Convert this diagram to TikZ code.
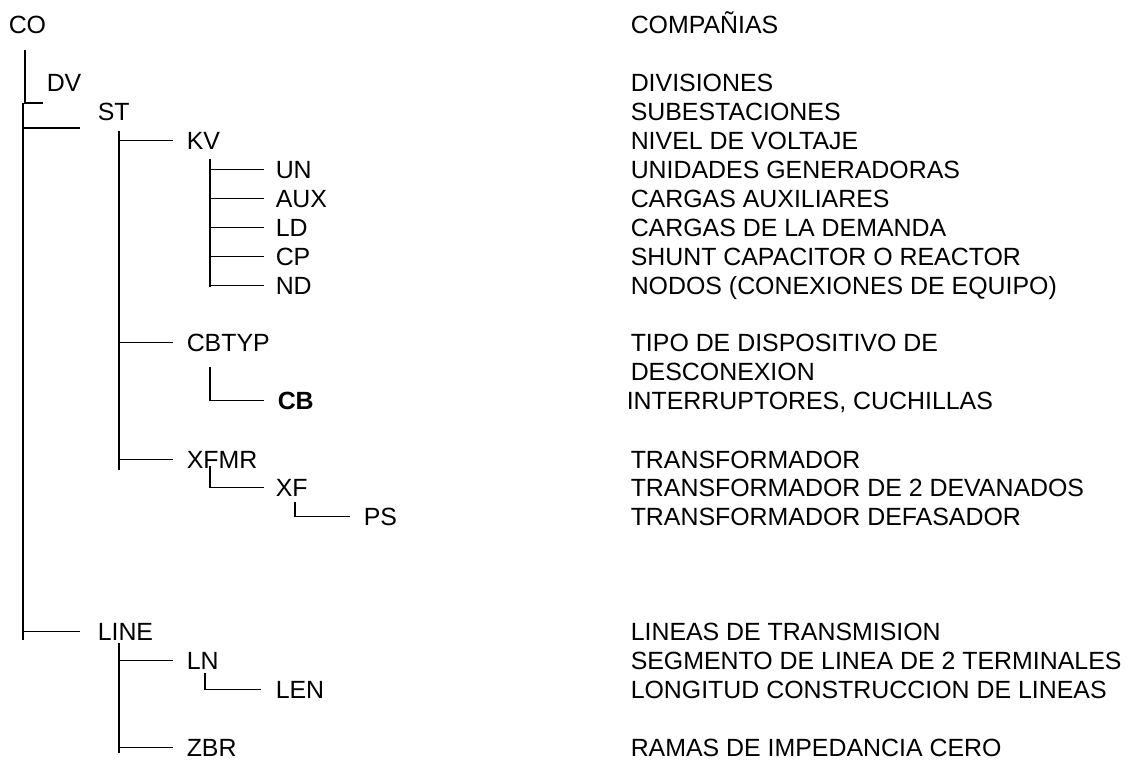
\documentclass[tikz,border=0pt]{standalone}
\usepackage{fontspec}
\setmainfont{Liberation Sans}
\usepackage{tikz}

\begin{document}
\begin{tikzpicture}[x=0.5pt,y=-0.5pt,line width=0.75pt,
    every node/.style={anchor=base west,inner sep=0pt,font=\fontsize{12.45}{14}\selectfont}]
  \useasboundingbox (0,0) rectangle (1130,760);
  \node (CO) at (8,33) {CO};
  \node (DV) at (46,91) {DV};
  \node (ST) at (97,120) {ST};
  \node (KV) at (186,149) {KV};
  \node (UN) at (275,178) {UN};
  \node (AUX) at (275,207) {AUX};
  \node (LD) at (275,236) {LD};
  \node (CP) at (275,265) {CP};
  \node (ND) at (275,294) {ND};
  \node (CBTYP) at (186,351) {CBTYP};
  \node (CB) at (277,409) {\bfseries CB};
  \node (XFMR) at (186,468) {XFMR};
  \node (XF) at (275,496) {XF};
  \node (PS) at (363,525) {PS};
  \node (LINE) at (97,640) {LINE};
  \node (LN) at (186,669) {LN};
  \node (LEN) at (275,698) {LEN};
  \node (ZBR) at (186,756) {ZBR};
  \node (dCO) at (630,33) {COMPAÑIAS};
  \node (dDV) at (630,91) {DIVISIONES};
  \node (dST) at (630,120) {SUBESTACIONES};
  \node (dKV) at (630,149) {NIVEL DE VOLTAJE};
  \node (dUN) at (630,178) {UNIDADES GENERADORAS};
  \node (dAUX) at (630,207) {CARGAS AUXILIARES};
  \node (dLD) at (630,236) {CARGAS DE LA DEMANDA};
  \node (dCP) at (630,265) {SHUNT CAPACITOR O REACTOR};
  \node (dND) at (630,294) {NODOS (CONEXIONES DE EQUIPO)};
  \node (dCBTYP) at (630,351) {TIPO DE DISPOSITIVO DE};
  \node (dCBTYP2) at (630,380) {DESCONEXION};
  \node (dCB) at (626,409) {INTERRUPTORES, CUCHILLAS};
  \node (dXFMR) at (630,468) {TRANSFORMADOR};
  \node (dXF) at (630,496) {TRANSFORMADOR DE 2 DEVANADOS};
  \node (dPS) at (630,525) {TRANSFORMADOR DEFASADOR};
  \node (dLINE) at (630,640) {LINEAS DE TRANSMISION};
  \node (dLN) at (630,669) {SEGMENTO DE LINEA DE 2 TERMINALES};
  \node (dLEN) at (630,698) {LONGITUD CONSTRUCCION DE LINEAS};
  \node (dZBR) at (630,756) {RAMAS DE IMPEDANCIA CERO};
  \coordinate (tCO) at (25,50);
  \coordinate (eCO) at (43,103);
  \draw (tCO) |- (eCO);
  \coordinate (b0) at (23,103);
  \coordinate (e0) at (23,640);
  \coordinate (sST) at (80,128);
  \draw (b0) -- (e0);
  \draw (b0 |- sST) -- (sST);
  \draw (b0 |- LINE.west) -- ([xshift=-8.5pt]LINE.west);
  \coordinate (bST) at (119,131);
  \coordinate (eST) at (119,470);
  \draw (bST) -- (eST);
  \draw (bST |- KV.west) -- ([xshift=-6.5pt]KV.west);
  \draw (bST |- CBTYP.west) -- ([xshift=-6.5pt]CBTYP.west);
  \draw (bST |- XFMR.west) -- ([xshift=-6.5pt]XFMR.west);
  \coordinate (bKV) at (210,159);
  \coordinate (eKV) at (210,287);
  \draw (bKV) -- (eKV);
  \draw (bKV |- UN.west) -- ([xshift=-5.5pt]UN.west);
  \draw (bKV |- AUX.west) -- ([xshift=-5.5pt]AUX.west);
  \draw (bKV |- LD.west) -- ([xshift=-5.5pt]LD.west);
  \draw (bKV |- CP.west) -- ([xshift=-5.5pt]CP.west);
  \draw (bKV |- ND.west) -- ([xshift=-5.5pt]ND.west);
  \coordinate (bCB) at (210,367);
  \draw (bCB) |- ([xshift=-6.5pt]CB.west);
  \coordinate (bXF) at (210,466);
  \draw (bXF) |- ([xshift=-5.5pt]XF.west);
  \coordinate (bPS) at (295,502);
  \draw (bPS) |- ([xshift=-6.5pt]PS.west);
  \coordinate (bLINE) at (119,643);
  \coordinate (eLINE) at (119,753);
  \draw (bLINE) -- (eLINE);
  \draw (bLINE |- LN.west) -- ([xshift=-6.5pt]LN.west);
  \draw (bLINE |- ZBR.west) -- ([xshift=-6.5pt]ZBR.west);
  \coordinate (bLEN) at (205,673);
  \draw (bLEN) |- ([xshift=-7pt]LEN.west);
\end{tikzpicture}
\end{document}
